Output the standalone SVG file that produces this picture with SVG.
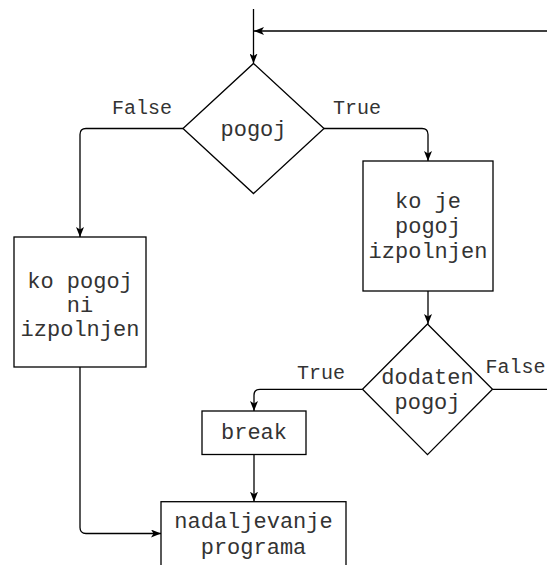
<svg xmlns="http://www.w3.org/2000/svg" width="547" height="565" viewBox="0 0 547 565">
<style>
.shape{fill:#fff;stroke:#000;stroke-width:1.3}
.edge{fill:none;stroke:#000;stroke-width:1.3}
.t{font-family:"Liberation Mono","Courier New",monospace;font-size:22px;fill:#333;text-anchor:middle}
.lbl{font-family:"Liberation Mono","Courier New",monospace;font-size:20px;fill:#333;text-anchor:middle}
</style>
<defs>
<marker id="arr" viewBox="0 0 10 8" refX="10" refY="4" markerWidth="10" markerHeight="8" markerUnits="userSpaceOnUse" orient="auto">
<path d="M0,0 L10,4 L0,8 L2.5,4 Z" fill="#000"/>
</marker>
</defs>
<rect width="547" height="565" fill="#fff"/>
<g id="connectors">
<path class="edge" d="M253.5,9 V63.5" marker-end="url(#arr)"/>
<path class="edge" d="M547,31 H254" marker-end="url(#arr)"/>
<path class="edge" d="M183,128.5 H86 Q80,128.5 80,134.5 V237" marker-end="url(#arr)"/>
<path class="edge" d="M324,128.5 H422 Q428,128.5 428,134.5 V161" marker-end="url(#arr)"/>
<path class="edge" d="M428,291 V324" marker-end="url(#arr)"/>
<path class="edge" d="M362.5,389.3 H260 Q254,389.3 254,395.3 V411" marker-end="url(#arr)"/>
<path class="edge" d="M492.5,389.3 H547"/>
<path class="edge" d="M80,367 V527.5 Q80,533.5 86,533.5 H161" marker-end="url(#arr)"/>
<path class="edge" d="M254,454.5 V501.7" marker-end="url(#arr)"/>
<text class="lbl" x="142" y="114">False</text>
<text class="lbl" x="357" y="114">True</text>
<text class="lbl" x="321" y="379">True</text>
<text class="lbl" x="515.5" y="372.5">False</text>
</g>
<g id="cond1">
<polygon class="shape" points="253.5,63.5 324,128.5 253.5,193.5 183,128.5"/>
<text class="t" x="253.5" y="136">pogoj</text>
</g>
<g id="true1">
<rect class="shape" x="363" y="161" width="130" height="130"/>
<text class="t" x="428" y="208">ko je</text>
<text class="t" x="428" y="233">pogoj</text>
<text class="t" x="428" y="258">izpolnjen</text>
</g>
<g id="false1">
<rect class="shape" x="14" y="237" width="132" height="130"/>
<text class="t" x="80" y="288">ko pogoj</text>
<text class="t" x="80" y="312">ni</text>
<text class="t" x="80" y="336">izpolnjen</text>
</g>
<g id="cond2">
<polygon class="shape" points="427.5,324 492.5,389.3 427.5,454.7 362.5,389.3"/>
<text class="t" x="427.5" y="384">dodaten</text>
<text class="t" x="427.5" y="409">pogoj</text>
</g>
<g id="brk">
<rect class="shape" x="202" y="411" width="104" height="43.5"/>
<text class="t" x="254" y="439">break</text>
</g>
<g id="cont">
<rect class="shape" x="161" y="501.7" width="185" height="66"/>
<text class="t" x="253.5" y="528">nadaljevanje</text>
<text class="t" x="253.5" y="554">programa</text>
</g>
</svg>
